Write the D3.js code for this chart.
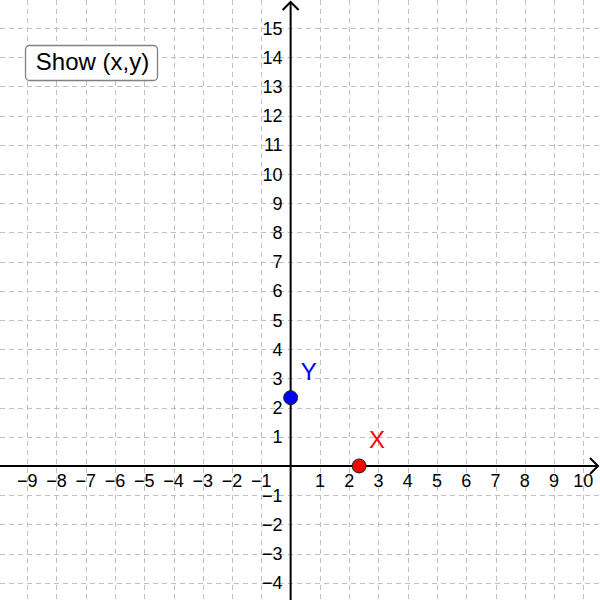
<!DOCTYPE html>
<html><head><meta charset="utf-8">
<script src="https://cdn.jsdelivr.net/npm/d3@7"></script>
<style>body{margin:0;background:#fff}svg{display:block;font-family:"Liberation Sans",Arial,sans-serif}</style>
</head><body>
<svg id="c" width="600" height="600"></svg>
<script>
const xTicks = [-9,-8,-7,-6,-5,-4,-3,-2,-1,1,2,3,4,5,6,7,8,9,10];
const yTicks = [-4,-3,-2,-1,1,2,3,4,5,6,7,8,9,10,11,12,13,14,15];
const gridX = d3.range(-9, 11);
const gridY = d3.range(-4, 16);
const pointNames = ["X","Y"];
const pointXs = [2.34, 0];
const pointYs = [0, 2.34];
const pointColors = ["#ff0000","#0000ff"];
const buttonLabel = "Show (x,y)";

const W = 600, H = 600;
const x = d3.scaleLinear().domain([-9.93, 10.57]).range([0, W]);
const y = d3.scaleLinear().domain([15.96, -4.59]).range([0, H]);
const svg = d3.select("#c");

svg.append("g").selectAll("line").data(gridX.filter(d=>d!==0)).join("line")
  .attr("x1", d=>Math.round(x(d))+0.5).attr("x2", d=>Math.round(x(d))+0.5)
  .attr("y1", 0).attr("y2", H)
  .attr("stroke", "#c0c0c0").attr("stroke-dasharray", "5,4");
svg.append("g").selectAll("line").data(gridY.filter(d=>d!==0)).join("line")
  .attr("y1", d=>Math.round(y(d))+0.5).attr("y2", d=>Math.round(y(d))+0.5)
  .attr("x1", 0).attr("x2", W)
  .attr("stroke", "#c0c0c0").attr("stroke-dasharray", "5,4");

const x0 = x(0), y0 = y(0);
svg.append("line").attr("x1", 0).attr("x2", W-2).attr("y1", y0).attr("y2", y0)
  .attr("stroke", "#000").attr("stroke-width", 2);
svg.append("line").attr("x1", x0).attr("x2", x0).attr("y1", 2).attr("y2", H)
  .attr("stroke", "#000").attr("stroke-width", 2);
svg.append("path").attr("d", `M${W-10},${y0-8}L${W-2},${y0}L${W-10},${y0+8}`)
  .attr("fill","none").attr("stroke","#000").attr("stroke-width",2);
svg.append("path").attr("d", `M${x0-8},10L${x0},2L${x0+8},10`)
  .attr("fill","none").attr("stroke","#000").attr("stroke-width",2);

const fmt = d => (d<0 ? "\u2212" + Math.abs(d) : String(d));
svg.append("g").selectAll("text").data(xTicks).join("text")
  .attr("x", d=>x(d)).attr("y", y0+21.5).attr("text-anchor","middle")
  .attr("font-size", 18).text(fmt);
svg.append("g").selectAll("text").data(yTicks).join("text")
  .attr("x", x0-8).attr("y", d=>y(d)+6.5).attr("text-anchor","end")
  .attr("font-size", 18).text(fmt);

const pts = pointNames.map((n,i)=>({n, px:pointXs[i], py:pointYs[i], c:pointColors[i]}));
svg.append("g").selectAll("circle").data(pts).join("circle")
  .attr("cx", d=>x(d.px)).attr("cy", d=>y(d.py)).attr("r", 7)
  .attr("fill", d=>d.c).attr("stroke", "#222").attr("stroke-width", 1);
svg.append("g").selectAll("text").data(pts).join("text")
  .attr("x", d=>x(d.px)+10).attr("y", d=>y(d.py)-17.5)
  .attr("font-size", 24).attr("fill", d=>d.c).text(d=>d.n);

const b = svg.append("g");
b.append("rect").attr("x", 25.5).attr("y", 45.5).attr("width", 132).attr("height", 35)
  .attr("rx", 4).attr("fill", "#fff").attr("stroke", "#808080").attr("stroke-width", 1.3);
b.append("text").attr("x", 92.5).attr("y", 69.5).attr("text-anchor","middle")
  .attr("font-size", 24).text(buttonLabel);
</script>
</body></html>
